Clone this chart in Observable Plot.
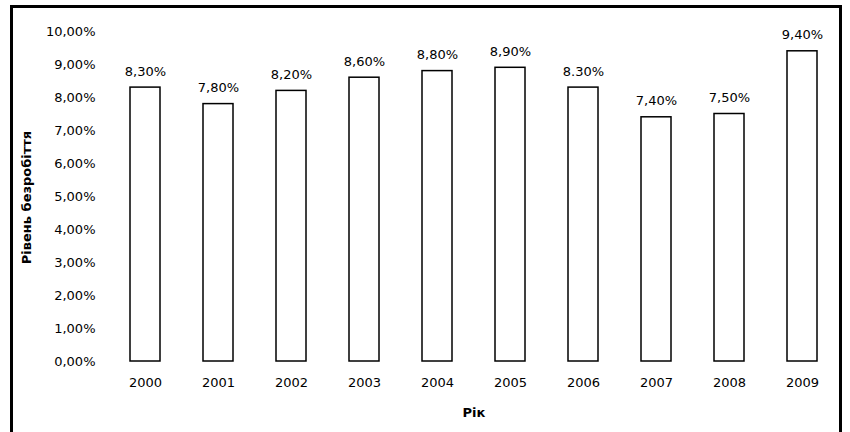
<!DOCTYPE html>
<html>
<head>
<meta charset="utf-8">
<script src="https://cdn.jsdelivr.net/npm/d3@7"></script>
<script src="https://cdn.jsdelivr.net/npm/@observablehq/plot@0.6"></script>
<style>
  html, body { margin: 0; padding: 0; background: #fff; overflow: hidden; }
  #wrap { position: relative; width: 850px; height: 432px; }
  #border { position: absolute; left: 10px; top: 5px; width: 826px; height: 440px; border: 3px solid #000; pointer-events: none; }
</style>
</head>
<body>
<div id="wrap"><div id="border"></div></div>
<script>
const years = ["2000", "2001", "2002", "2003", "2004", "2005", "2006", "2007", "2008", "2009"];
const rates = [8.3, 7.8, 8.2, 8.6, 8.8, 8.9, 8.3, 7.4, 7.5, 9.4];
const valueLabels = ["8,30%", "7,80%", "8,20%", "8,60%", "8,80%", "8,90%", "8.30%", "7,40%", "7,50%", "9,40%"];
const yTicks = [0, 1, 2, 3, 4, 5, 6, 7, 8, 9, 10];
const yTickLabels = ["0,00%", "1,00%", "2,00%", "3,00%", "4,00%", "5,00%", "6,00%", "7,00%", "8,00%", "9,00%", "10,00%"];
const xTitle = "Рік";
const yTitle = "Рівень безробіття";

const data = years.map((year, i) => ({ year, rate: rates[i], label: valueLabels[i] }));

const chart = Plot.plot({
  width: 850,
  height: 432,
  marginLeft: 115,
  marginRight: 18,
  marginTop: 31,
  marginBottom: 71,
  style: { fontFamily: "DejaVu Sans", fontSize: "13px", background: "transparent", color: "#000" },
  x: { domain: years, paddingInner: 0.59, paddingOuter: 0.2, label: null },
  y: { domain: [0, 10], label: null },
  marks: [
    Plot.barY(data, { x: "year", y: "rate", fill: "#fff", stroke: "#000", strokeWidth: 1.5 }),
    Plot.text(data, { x: "year", y: "rate", text: "label", dy: -16, fontSize: 13 }),
    Plot.axisY({ ticks: yTicks, tickFormat: (d) => yTickLabels[yTicks.indexOf(d)], tickSize: 0, tickPadding: 20, label: null, fontSize: 13 }),
    Plot.axisX({ tickSize: 0, tickPadding: 16, label: null, fontSize: 13 }),
    Plot.text([xTitle], { frameAnchor: "bottom", dy: 55, fontWeight: "bold", fontSize: 13 }),
    Plot.text([yTitle], { frameAnchor: "left", dx: -89, dy: 1, rotate: -90, textAnchor: "middle", fontWeight: "bold", fontSize: 13 })
  ]
});
document.getElementById("wrap").insertBefore(chart, document.getElementById("border"));
</script>
</body>
</html>
